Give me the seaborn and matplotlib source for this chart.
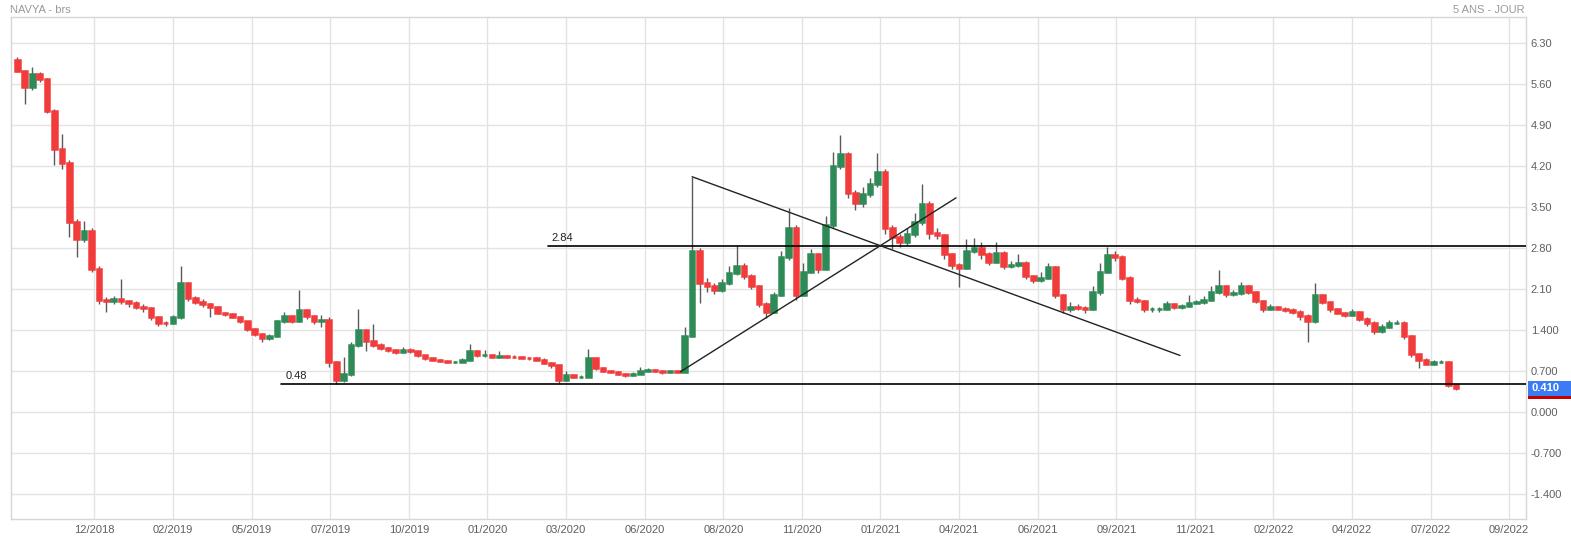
import numpy as np
import matplotlib
matplotlib.use("Agg")
import matplotlib.pyplot as plt
import matplotlib.transforms as mtransforms
from matplotlib.patches import Rectangle
import seaborn as sns

# ---------------- data (weekly candles) ----------------
first_open = 6.02
closes_1 = [5.82, 5.55, 5.78, 5.68, 5.15, 4.50, 4.25, 3.25, 2.95, 3.10, 2.45, 1.92, 1.90, 1.93, 1.90, 1.86, 1.80, 1.78, 1.62, 1.53]
highs_1 = [6.06, 5.85, 5.90, 5.80, 5.70, 5.18, 4.75, 4.30, 3.30, 3.27, 3.15, 2.50, 1.96, 1.98, 2.28, 1.92, 1.90, 1.84, 1.80, 1.64]
lows_1 = [5.80, 5.26, 5.50, 5.64, 5.10, 4.22, 4.15, 3.00, 2.65, 2.90, 2.40, 1.85, 1.72, 1.84, 1.85, 1.80, 1.76, 1.72, 1.58, 1.48]

closes_2 = [1.52, 1.62, 2.20, 1.95, 1.88, 1.84, 1.80, 1.70, 1.67, 1.63, 1.55, 1.42, 1.33, 1.27, 1.30, 1.55, 1.64, 1.56, 1.74, 1.64]
highs_2 = [1.56, 1.66, 2.50, 2.22, 1.98, 1.94, 1.86, 1.82, 1.72, 1.69, 1.65, 1.56, 1.44, 1.36, 1.34, 1.58, 1.72, 1.66, 2.08, 1.76]
lows_2 = [1.48, 1.50, 1.60, 1.90, 1.84, 1.80, 1.62, 1.68, 1.64, 1.61, 1.52, 1.38, 1.30, 1.20, 1.24, 1.28, 1.52, 1.52, 1.54, 1.60]

closes_3 = [1.55, 1.58, 0.85, 0.55, 0.65, 1.15, 1.40, 1.22, 1.15, 1.10, 1.06, 1.03, 1.06, 1.04, 0.97, 0.92, 0.89, 0.87, 0.86, 0.86]
highs_3 = [1.66, 1.66, 1.62, 0.88, 0.95, 1.20, 1.76, 1.42, 1.50, 1.18, 1.12, 1.08, 1.12, 1.10, 1.05, 0.98, 0.94, 0.91, 0.89, 0.88]
lows_3 = [1.50, 1.46, 0.78, 0.49, 0.52, 0.62, 1.12, 1.05, 1.12, 1.06, 1.03, 1.00, 1.01, 1.01, 0.94, 0.90, 0.87, 0.85, 0.84, 0.84]

closes_4 = [0.90, 1.05, 0.98, 0.98, 0.95, 0.96, 0.95, 0.94, 0.93, 0.92, 0.90, 0.84, 0.80, 0.55, 0.64, 0.61, 0.61, 0.92, 0.76, 0.70]
highs_4 = [0.92, 1.16, 1.07, 1.06, 1.00, 1.05, 0.98, 0.97, 0.96, 0.95, 0.94, 0.92, 0.86, 0.82, 0.70, 0.66, 0.64, 1.08, 0.94, 0.78]
lows_4 = [0.85, 0.88, 0.95, 0.95, 0.93, 0.93, 0.93, 0.92, 0.91, 0.90, 0.88, 0.82, 0.76, 0.50, 0.53, 0.59, 0.59, 0.60, 0.73, 0.68]

closes_5 = [0.69, 0.66, 0.63, 0.66, 0.71, 0.72, 0.70, 0.68, 0.70, 0.69, 1.30, 2.75, 2.20, 2.15, 2.08, 2.20, 2.38, 2.50, 2.33, 2.15]
highs_5 = [0.72, 0.70, 0.67, 0.68, 0.78, 0.76, 0.74, 0.72, 0.73, 0.72, 1.45, 4.02, 2.80, 2.30, 2.20, 2.28, 2.50, 2.86, 2.55, 2.36]
lows_5 = [0.67, 0.64, 0.61, 0.62, 0.65, 0.69, 0.68, 0.66, 0.67, 0.67, 0.68, 1.28, 1.86, 2.05, 2.02, 2.05, 2.18, 2.35, 2.28, 2.10]

closes_6 = [1.85, 1.72, 2.00, 2.65, 3.14, 2.00, 2.40, 2.70, 2.45, 3.20, 4.20, 4.40, 3.75, 3.58, 3.72, 3.90, 4.10, 3.15, 2.99, 2.90]
highs_6 = [2.17, 1.88, 2.05, 2.75, 3.49, 3.20, 2.55, 2.78, 2.72, 3.35, 4.45, 4.73, 4.45, 3.80, 3.85, 4.00, 4.42, 4.15, 3.20, 3.05]
lows_6 = [1.80, 1.61, 1.70, 1.98, 2.60, 1.91, 1.98, 2.38, 2.38, 2.42, 3.15, 4.15, 3.65, 3.45, 3.50, 3.68, 3.85, 3.05, 2.78, 2.82]

closes_7 = [3.05, 3.25, 3.55, 3.06, 3.03, 2.70, 2.52, 2.46, 2.75, 2.80, 2.70, 2.57, 2.72, 2.50, 2.52, 2.55, 2.32, 2.26, 2.30, 2.48]
highs_7 = [3.15, 3.40, 3.90, 3.60, 3.15, 3.05, 2.72, 2.55, 2.95, 2.98, 2.90, 2.74, 2.90, 2.75, 2.58, 2.70, 2.58, 2.35, 2.40, 2.55]
lows_7 = [2.85, 3.00, 3.20, 2.95, 2.95, 2.62, 2.45, 2.14, 2.44, 2.72, 2.62, 2.52, 2.55, 2.45, 2.46, 2.48, 2.28, 2.20, 2.22, 2.28]

closes_8 = [2.00, 1.76, 1.80, 1.78, 1.76, 2.05, 2.40, 2.68, 2.65, 2.30, 1.91, 1.90, 1.76, 1.76, 1.77, 1.84, 1.80, 1.81, 1.87, 1.88]
highs_8 = [2.50, 2.02, 1.88, 1.84, 1.82, 2.15, 2.55, 2.82, 2.75, 2.68, 2.32, 1.96, 1.92, 1.80, 1.80, 1.90, 1.86, 1.85, 2.00, 1.92]
lows_8 = [1.95, 1.70, 1.72, 1.74, 1.70, 1.74, 2.00, 2.38, 2.58, 2.25, 1.85, 1.86, 1.72, 1.72, 1.72, 1.75, 1.77, 1.76, 1.79, 1.84]

closes_9 = [1.92, 2.05, 2.15, 2.02, 2.03, 2.15, 2.05, 1.90, 1.76, 1.80, 1.77, 1.75, 1.72, 1.64, 1.55, 2.00, 1.88, 1.76, 1.70, 1.66]
highs_9 = [1.98, 2.15, 2.43, 2.18, 2.08, 2.22, 2.18, 2.07, 1.92, 1.85, 1.82, 1.80, 1.78, 1.74, 1.68, 2.20, 2.02, 1.90, 1.78, 1.72]
lows_9 = [1.85, 1.90, 2.02, 1.96, 1.98, 2.00, 2.02, 1.86, 1.72, 1.74, 1.74, 1.72, 1.68, 1.58, 1.20, 1.52, 1.84, 1.72, 1.67, 1.63]

closes_10 = [1.72, 1.60, 1.53, 1.39, 1.46, 1.52, 1.53, 1.30, 1.00, 0.90, 0.83, 0.86, 0.86, 0.47, 0.41]
highs_10 = [1.76, 1.73, 1.62, 1.55, 1.50, 1.58, 1.57, 1.55, 1.32, 1.02, 0.92, 0.89, 0.89, 0.87, 0.48]
lows_10 = [1.64, 1.55, 1.48, 1.34, 1.36, 1.44, 1.50, 1.25, 0.95, 0.75, 0.80, 0.81, 0.84, 0.43, 0.38]

tick_labels = ["12/2018", "02/2019", "05/2019", "07/2019", "10/2019", "01/2020", "03/2020",
               "06/2020", "08/2020", "11/2020", "01/2021", "04/2021", "06/2021", "09/2021",
               "11/2021", "02/2022", "04/2022", "07/2022", "09/2022"]
ytick_values = [-1.4, -0.7, 0.0, 0.7, 1.4, 2.1, 2.8, 3.5, 4.2, 4.9, 5.6, 6.3]
ytick_labels = ["-1.400", "-0.700", "0.000", "0.700", "1.400", "2.10", "2.80", "3.50",
                "4.20", "4.90", "5.60", "6.30"]

# drawn objects (x in trading-day index, y in price)
support_level = 0.48
resistance_level = 2.84
support_start_day = 180
resistance_start_day = 360
rising_line_x = [449, 635]
rising_line_y = [0.69, 3.66]
falling_line_x = [457, 786]
falling_line_y = [4.02, 0.97]
last_price = 0.41

title_left = "NAVYA - brs"
title_right = "5 ANS - JOUR"

# ---------------- assemble ----------------
closes = np.array(closes_1 + closes_2 + closes_3 + closes_4 + closes_5 +
                  closes_6 + closes_7 + closes_8 + closes_9 + closes_10)
highs = np.array(highs_1 + highs_2 + highs_3 + highs_4 + highs_5 +
                 highs_6 + highs_7 + highs_8 + highs_9 + highs_10)
lows = np.array(lows_1 + lows_2 + lows_3 + lows_4 + lows_5 +
                lows_6 + lows_7 + lows_8 + lows_9 + lows_10)
opens = np.concatenate([[first_open], closes[:-1]])
n = len(closes)
days_per_bar = 5
x = np.arange(n) * days_per_bar + 2          # bar centre in trading-day index
tick_pos = 54 + 53 * np.arange(len(tick_labels))

GREEN = "#2e8b57"
RED = "#f23c3c"
WICK = "#5a5a5a"
GRID = "#e3e3e3"
TXT = "#5f5f5f"

sns.set_theme(style="whitegrid")
plt.rcParams["font.family"] = ["Liberation Sans", "DejaVu Sans"]

W, H = 1571, 540
fig = plt.figure(figsize=(W / 100, H / 100), dpi=100)
left_px, right_px, top_px, bottom_px = 10.7, 1526.0, 17.3, 519.0
ax = fig.add_axes([left_px / W, 1 - bottom_px / H,
                   (right_px - left_px) / W, (bottom_px - top_px) / H])
ax.set_facecolor("white")

# wicks
ax.vlines(x, lows, highs, colors=WICK, linewidth=1.0, zorder=2)
# bodies
up = closes >= opens
colors = np.where(up, GREEN, RED)
bottoms = np.minimum(opens, closes)
heights = np.abs(closes - opens)
ax.bar(x, heights, bottom=bottoms, width=days_per_bar * 0.62, color=colors,
       edgecolor=colors, linewidth=1.8, zorder=3)

xlim = (-2.5, 1019.3)
ylim = (-1.821, 6.741)
ax.set_xlim(*xlim)
ax.set_ylim(*ylim)

# horizontal levels
sns.lineplot(x=[support_start_day, xlim[1]], y=[support_level, support_level], ax=ax,
             color="black", linewidth=1.2, zorder=4)
sns.lineplot(x=[resistance_start_day, xlim[1]], y=[resistance_level, resistance_level], ax=ax,
             color="black", linewidth=1.2, zorder=4)
ax.annotate(f"{support_level:.2f}", (support_start_day + 3, support_level),
            xytext=(0, 2), textcoords="offset points", ha="left", va="bottom",
            fontsize=8, color="#222222")
ax.annotate(f"{resistance_level:.2f}", (resistance_start_day + 2, resistance_level),
            xytext=(0, 2), textcoords="offset points", ha="left", va="bottom",
            fontsize=8, color="#222222")
# trend lines
ax.plot(rising_line_x, rising_line_y, color="#222222", linewidth=1.0, zorder=4)
ax.plot(falling_line_x, falling_line_y, color="#222222", linewidth=1.0, zorder=4)

# ticks and grid
ax.set_xticks(tick_pos)
ax.set_xticklabels(tick_labels)
ax.set_yticks(ytick_values)
ax.set_yticklabels(ytick_labels)
ax.yaxis.tick_right()
ax.tick_params(axis="y", length=0, pad=3.5, labelsize=8, labelcolor=TXT)
ax.tick_params(axis="x", length=0, pad=4.5, labelsize=8, labelcolor=TXT)
ax.grid(True, color=GRID, linewidth=1.0)
ax.set_axisbelow(True)
for s in ax.spines.values():
    s.set_visible(True)
    s.set_color("#d6d6d6")
    s.set_linewidth(1.0)
ax.set_xlabel("")
ax.set_ylabel("")
if ax.get_legend() is not None:
    ax.get_legend().remove()

# last price box
tr = mtransforms.blended_transform_factory(fig.transFigure, ax.transData)
px_per_unit = (bottom_px - top_px) / (ylim[1] - ylim[0])
box_h = 15 / px_per_unit
bar_h = 3 / px_per_unit
box_x0 = 1527.5 / W
fig.add_artist(Rectangle((box_x0, last_price - box_h / 2), 1 - box_x0, box_h,
                         transform=tr, facecolor="#3b7cf4", edgecolor="none", clip_on=False))
fig.add_artist(Rectangle((box_x0, last_price - box_h / 2 - bar_h), 1 - box_x0, bar_h,
                         transform=tr, facecolor="#c40000", edgecolor="none", clip_on=False))
fig.text(1531 / W, last_price, f"{last_price:.3f}", transform=tr, ha="left", va="center",
         fontsize=8, color="white", fontweight="bold")

# titles
fig.text(10 / W, 1 - 10 / H, title_left, ha="left", va="center", fontsize=8, color="#9a9a9a")
fig.text(1525 / W, 1 - 10 / H, title_right, ha="right", va="center", fontsize=8, color="#9a9a9a")

fig.savefig("out.png", dpi=100, facecolor="white")
